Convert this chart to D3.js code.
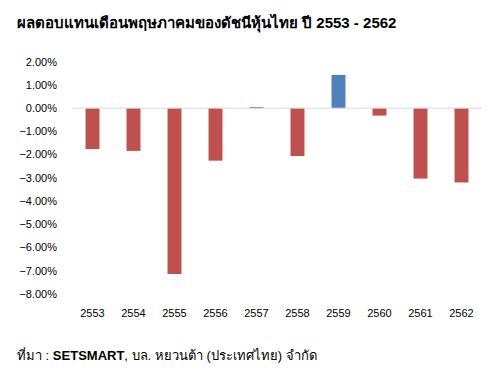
<!DOCTYPE html>
<html>
<head>
<meta charset="utf-8">
<script src="https://cdn.jsdelivr.net/npm/d3@7"></script>
<style>
  body { margin: 0; background: #fff; }
  svg { font-family: "Liberation Sans", Arial, sans-serif; }
</style>
</head>
<body>
<div id="chart"></div>
<script>
// Data
const years = ['2553', '2554', '2555', '2556', '2557', '2558', '2559', '2560', '2561', '2562'];
const returns = [-1.76, -1.84, -7.14, -2.26, 0.05, -2.06, 1.43, -0.32, -3.03, -3.20];
const yTicks = [2, 1, 0, -1, -2, -3, -4, -5, -6, -7, -8];

const width = 497;
const height = 374;

const svg = d3.select('#chart')
    .append('svg')
    .attr('width', width)
    .attr('height', height);

// Title
svg.append('text')
    .attr('x', 17)
    .attr('y', 28)
    .attr('font-size', 15)
    .attr('font-weight', 'bold')
    .attr('fill', '#000')
    .text('ผลตอบแทนเดือนพฤษภาคมของดัชนีหุ้นไทย ปี 2553 - 2562');

// Scales
const x = d3.scaleBand()
    .domain(years)
    .range([72, 482])
    .paddingInner(0.66)
    .paddingOuter(0.33);

const y = d3.scaleLinear()
    .domain([-8, 2])
    .range([294, 61.7]);

// Y axis labels
svg.append('g')
    .selectAll('text')
    .data(yTicks)
    .join('text')
    .attr('x', 57)
    .attr('y', d => y(d))
    .attr('dy', '0.35em')
    .attr('text-anchor', 'end')
    .attr('font-size', 11)
    .attr('fill', '#000')
    .text(d => d3.format('.2f')(d) + '%');

// Bars
svg.append('g')
    .selectAll('rect')
    .data(returns)
    .join('rect')
    .attr('x', (d, i) => x(years[i]))
    .attr('width', x.bandwidth())
    .attr('y', d => y(Math.max(0, d)))
    .attr('height', d => Math.abs(y(d) - y(0)))
    .attr('fill', d => d >= 0 ? '#4F81BD' : '#C0504D');

// Zero line
svg.append('line')
    .attr('x1', 72)
    .attr('x2', 482)
    .attr('y1', y(0))
    .attr('y2', y(0))
    .attr('stroke', '#d9d9d9')
    .attr('stroke-width', 1);

// X labels
svg.append('g')
    .selectAll('text')
    .data(years)
    .join('text')
    .attr('x', d => x(d) + x.bandwidth() / 2)
    .attr('y', 313)
    .attr('dy', '0.35em')
    .attr('text-anchor', 'middle')
    .attr('font-size', 11)
    .attr('fill', '#000')
    .text(d => d);

// Source note
const note = svg.append('text')
    .attr('x', 17)
    .attr('y', 360)
    .attr('font-size', 13)
    .attr('fill', '#000');
note.append('tspan').text('ที่มา : ');
note.append('tspan').attr('font-weight', 'bold').text('SETSMART');
note.append('tspan').text(', บล. หยวนต้า (ประเทศไทย) จำกัด');
</script>
</body>
</html>
